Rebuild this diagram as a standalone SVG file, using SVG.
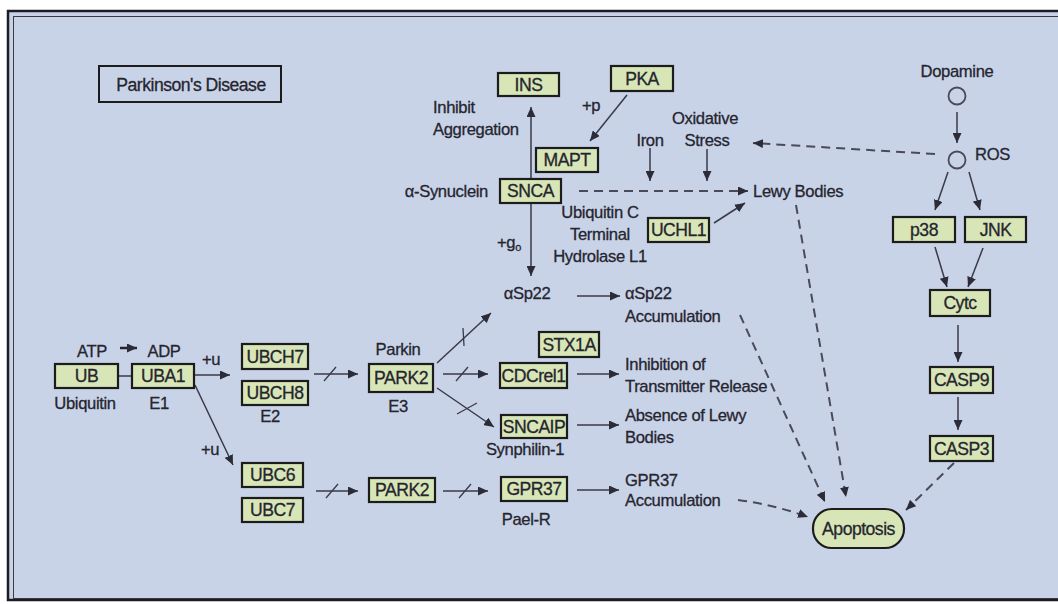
<svg xmlns="http://www.w3.org/2000/svg" width="1058" height="604" viewBox="0 0 1058 604">
<defs>
<style>
text{font-family:"Liberation Sans",Arial,sans-serif;fill:#25252f;stroke:#25252f;stroke-width:0.3}
.lbl{font-size:16.6px;letter-spacing:-0.35px}
.nt{font-size:17.6px;letter-spacing:-0.5px;text-anchor:middle}
.c{text-anchor:middle}
.e{text-anchor:end}
.box{fill:#d8e5b6;stroke:#1c1c1c;stroke-width:2.2}
.ln{fill:none;stroke:#3a3a48;stroke-width:1.5}
.ds{fill:none;stroke:#4a4a5a;stroke-width:2;stroke-dasharray:9 6}
.sl{stroke:#3a3a48;stroke-width:1.3}
</style>
<marker id="ah" viewBox="0 0 10 9" refX="10" refY="4.5" markerWidth="10" markerHeight="9" markerUnits="userSpaceOnUse" orient="auto">
<path d="M0,0 L10,4.5 L0,9 z" fill="#2c2c38"/>
</marker>
</defs>
<rect x="0" y="0" width="1058" height="604" fill="#ffffff"/>
<rect x="8" y="11" width="1060" height="589" fill="#c9d3e8" stroke="#1c1c22" stroke-width="2.5"/>
<rect x="13.5" y="16.5" width="1060" height="582" fill="none" stroke="#3a3a44" stroke-width="1"/>

<g id="connectors">
<line class="ln" x1="531" y1="179" x2="531" y2="107" marker-end="url(#ah)"/>
<line class="ln" x1="531" y1="203" x2="531" y2="276" marker-end="url(#ah)"/>
<line class="ln" x1="627" y1="95" x2="590" y2="141" marker-end="url(#ah)"/>
<line class="ln" x1="650" y1="148" x2="650" y2="181" marker-end="url(#ah)"/>
<line class="ln" x1="707" y1="149" x2="707" y2="181" marker-end="url(#ah)"/>
<line class="ds" x1="935" y1="154" x2="753" y2="143" marker-end="url(#ah)"/>
<line class="ds" x1="579" y1="191" x2="748" y2="191" marker-end="url(#ah)"/>
<line class="ln" x1="714" y1="223" x2="745" y2="203" marker-end="url(#ah)"/>
<line class="ln" x1="957" y1="112" x2="957" y2="143" marker-end="url(#ah)"/>
<line class="ln" x1="948" y1="172" x2="935" y2="210" marker-end="url(#ah)"/>
<line class="ln" x1="969" y1="172" x2="980" y2="210" marker-end="url(#ah)"/>
<line class="ln" x1="935" y1="247" x2="947" y2="287" marker-end="url(#ah)"/>
<line class="ln" x1="983" y1="248" x2="968" y2="287" marker-end="url(#ah)"/>
<line class="ln" x1="958" y1="325" x2="958" y2="362" marker-end="url(#ah)"/>
<line class="ln" x1="958" y1="397" x2="958" y2="430" marker-end="url(#ah)"/>
<line class="ds" x1="954" y1="463" x2="906" y2="510" marker-end="url(#ah)"/>
<line class="ds" x1="796" y1="205" x2="846" y2="497" marker-end="url(#ah)"/>
<line class="ds" x1="740" y1="315" x2="825" y2="502" marker-end="url(#ah)"/>
<path class="ds" d="M738,500 Q775,505 808,517" marker-end="url(#ah)"/>
<line class="ln" x1="118" y1="376" x2="132" y2="376"/>
<line x1="120" y1="348" x2="137" y2="348" stroke="#25252f" stroke-width="2.5" marker-end="url(#ah)"/>
<line class="ln" x1="194" y1="375" x2="230" y2="375" marker-end="url(#ah)"/>
<line class="ln" x1="195" y1="385" x2="233" y2="465" marker-end="url(#ah)"/>
<line class="ln" x1="314" y1="374" x2="358" y2="374" marker-end="url(#ah)"/>
<line class="sl" x1="324" y1="381" x2="336" y2="367"/>
<line class="ln" x1="316" y1="491" x2="358" y2="491" marker-end="url(#ah)"/>
<line class="sl" x1="326" y1="498" x2="338" y2="484"/>
<line class="ln" x1="437" y1="363" x2="491" y2="313" marker-end="url(#ah)"/>
<line class="sl" x1="463" y1="328" x2="464" y2="346"/>
<line class="ln" x1="443" y1="374" x2="488" y2="374" marker-end="url(#ah)"/>
<line class="sl" x1="456" y1="381" x2="468" y2="367"/>
<line class="ln" x1="437" y1="388" x2="494" y2="427" marker-end="url(#ah)"/>
<line class="sl" x1="457" y1="414" x2="477" y2="403"/>
<line class="ln" x1="443" y1="491" x2="488" y2="491" marker-end="url(#ah)"/>
<line class="sl" x1="459" y1="498" x2="471" y2="484"/>
<line class="ln" x1="577" y1="296" x2="620" y2="296" marker-end="url(#ah)"/>
<line class="ln" x1="577" y1="374" x2="619" y2="374" marker-end="url(#ah)"/>
<line class="ln" x1="577" y1="425" x2="619" y2="425" marker-end="url(#ah)"/>
<line class="ln" x1="577" y1="490" x2="619" y2="490" marker-end="url(#ah)"/>
</g>

<g id="title"><rect x="99" y="66" width="182" height="36" fill="none" stroke="#1c1c1c" stroke-width="2"/><text class="nt" x="191" y="90.5">Parkinson's Disease</text></g>
<g id="INS"><rect class="box" x="498" y="73" width="61" height="23"/><text class="nt" x="528.5" y="90.5">INS</text></g>
<g id="PKA"><rect class="box" x="611" y="66" width="62" height="25"/><text class="nt" x="642" y="84.5">PKA</text></g>
<g id="MAPT"><rect class="box" x="536" y="148" width="62" height="24"/><text class="nt" x="567" y="166">MAPT</text></g>
<g id="SNCA"><rect class="box" x="500" y="179" width="61" height="24"/><text class="nt" x="530.5" y="197">SNCA</text></g>
<g id="UCHL1"><rect class="box" x="648" y="218" width="61" height="24"/><text class="nt" x="678.5" y="236">UCHL1</text></g>
<g id="p38"><rect class="box" x="893" y="217" width="62" height="25"/><text class="nt" x="924" y="235.5">p38</text></g>
<g id="JNK"><rect class="box" x="965" y="217" width="61" height="25"/><text class="nt" x="995.5" y="235.5">JNK</text></g>
<g id="Cytc"><rect class="box" x="930" y="290" width="60" height="26"/><text class="nt" x="960" y="309">Cytc</text></g>
<g id="CASP9"><rect class="box" x="930" y="367" width="63" height="26"/><text class="nt" x="961.5" y="386">CASP9</text></g>
<g id="CASP3"><rect class="box" x="930" y="436" width="63" height="25"/><text class="nt" x="961.5" y="454.5">CASP3</text></g>
<g id="Apoptosis"><rect class="box" x="813" y="509" width="91" height="39" rx="19" ry="19"/><text class="nt" x="858.5" y="534.5">Apoptosis</text></g>
<g id="UB"><rect class="box" x="55" y="364" width="63" height="24"/><text class="nt" x="86.5" y="382">UB</text></g>
<g id="UBA1"><rect class="box" x="132" y="364" width="62" height="24"/><text class="nt" x="163" y="382">UBA1</text></g>
<g id="UBCH7"><rect class="box" x="242" y="344" width="66" height="25"/><text class="nt" x="275" y="362.5">UBCH7</text></g>
<g id="UBCH8"><rect class="box" x="242" y="381" width="66" height="24"/><text class="nt" x="275" y="399">UBCH8</text></g>
<g id="UBC6"><rect class="box" x="242" y="463" width="61" height="24"/><text class="nt" x="272.5" y="481">UBC6</text></g>
<g id="UBC7"><rect class="box" x="242" y="498" width="61" height="24"/><text class="nt" x="272.5" y="516">UBC7</text></g>
<g id="PARK2a"><rect class="box" x="369" y="364" width="64" height="28"/><text class="nt" x="401" y="384">PARK2</text></g>
<g id="PARK2b"><rect class="box" x="369" y="478" width="66" height="24"/><text class="nt" x="402" y="496">PARK2</text></g>
<g id="STX1A"><rect class="box" x="539" y="332" width="60" height="25"/><text class="nt" x="569" y="350.5">STX1A</text></g>
<g id="CDCrel1"><rect class="box" x="500" y="363" width="67" height="25"/><text class="nt" x="533.5" y="381.5">CDCrel1</text></g>
<g id="SNCAIP"><rect class="box" x="501" y="415" width="66" height="23"/><text class="nt" x="534" y="432.5">SNCAIP</text></g>
<g id="GPR37"><rect class="box" x="501" y="477" width="66" height="24"/><text class="nt" x="534" y="495">GPR37</text></g>
<g id="Dopamine"><circle cx="957" cy="96" r="8.5" fill="none" stroke="#4a4a58" stroke-width="1.8"/><text class="lbl c" x="957" y="77">Dopamine</text></g>
<g id="ROS"><circle cx="957" cy="160" r="8.5" fill="none" stroke="#4a4a58" stroke-width="1.8"/><text class="lbl" x="975" y="160">ROS</text></g>

<g id="labels">
<text class="lbl" x="433" y="113">Inhibit</text>
<text class="lbl" x="433" y="135">Aggregation</text>
<text class="lbl c" x="591" y="111">+p</text>
<text class="lbl c" x="705" y="124">Oxidative</text>
<text class="lbl c" x="707" y="146">Stress</text>
<text class="lbl c" x="650" y="146">Iron</text>
<text class="lbl e" x="488" y="197">α-Synuclein</text>
<text class="lbl" x="753" y="197">Lewy Bodies</text>
<text class="lbl c" x="600" y="218">Ubiquitin C</text>
<text class="lbl c" x="600" y="240">Terminal</text>
<text class="lbl c" x="600" y="262">Hydrolase L1</text>
<text class="lbl" x="497" y="248">+g<tspan font-size="11" dy="3">o</tspan></text>
<text class="lbl c" x="527" y="299">αSp22</text>
<text class="lbl" x="625" y="299">αSp22</text>
<text class="lbl" x="625" y="322">Accumulation</text>
<text class="lbl c" x="398" y="355">Parkin</text>
<text class="lbl c" x="398" y="412">E3</text>
<text class="lbl c" x="92" y="357">ATP</text>
<text class="lbl c" x="164" y="357">ADP</text>
<text class="lbl c" x="85" y="409">Ubiquitin</text>
<text class="lbl c" x="159" y="409">E1</text>
<text class="lbl c" x="211" y="365">+u</text>
<text class="lbl c" x="210" y="455">+u</text>
<text class="lbl c" x="270" y="422">E2</text>
<text class="lbl c" x="525" y="455">Synphilin-1</text>
<text class="lbl c" x="526" y="525">Pael-R</text>
<text class="lbl" x="625" y="370">Inhibition of</text>
<text class="lbl" x="625" y="392">Transmitter Release</text>
<text class="lbl" x="625" y="421">Absence of Lewy</text>
<text class="lbl" x="625" y="443">Bodies</text>
<text class="lbl" x="625" y="486">GPR37</text>
<text class="lbl" x="625" y="506">Accumulation</text>
</g>
</svg>
